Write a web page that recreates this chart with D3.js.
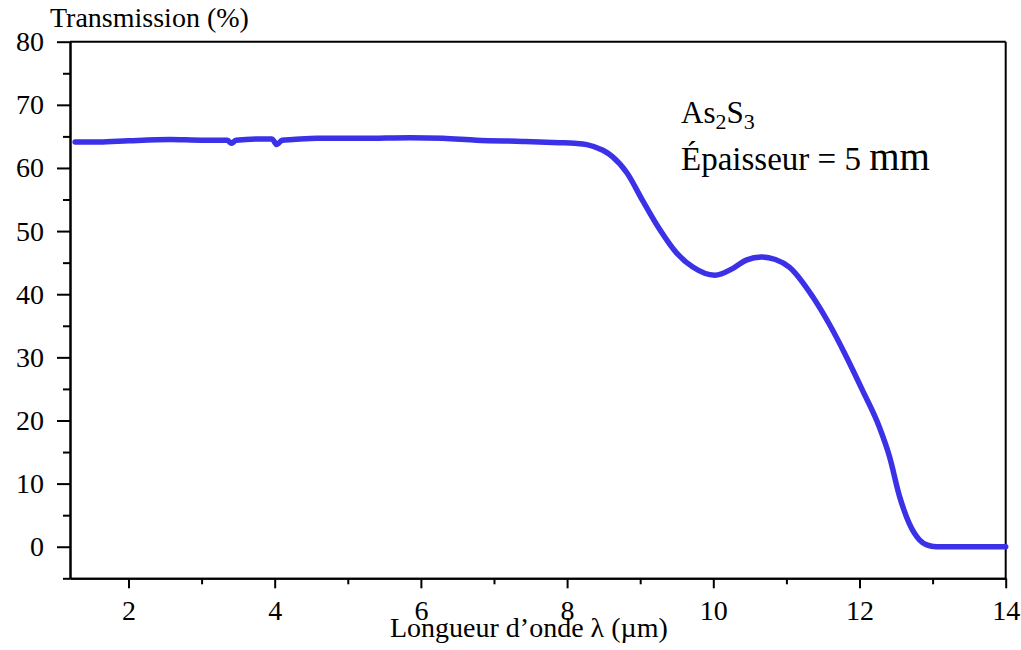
<!DOCTYPE html>
<html>
<head>
<meta charset="utf-8">
<script src="https://cdn.jsdelivr.net/npm/d3@7"></script>
<style>
  body { margin: 0; background: #fff; }
  svg text { font-family: "Liberation Serif", "Times New Roman", Times, serif; fill: #000; }
  .axis path, .axis line { stroke: #000; stroke-width: 2px; }
  .axis text { font-size: 28px; }
</style>
</head>
<body>
<div id="chart-area"></div>
<script>
// longueur d'onde (µm) et transmission (%)
var wavelength = [1.27, 1.6, 2.0, 2.57, 3.0, 3.35, 3.41, 3.47, 3.80, 3.96, 4.03, 4.10, 4.25, 4.58, 5.2, 5.85, 6.3, 6.76, 7.39, 7.9, 8.1, 8.27, 8.49, 8.62, 8.82, 9.03, 9.27, 9.5, 9.72, 10.02, 10.27, 10.45, 10.66, 10.85, 11.04, 11.36, 11.59, 11.82, 12.04, 12.27, 12.41, 12.55, 12.68, 12.82, 12.92, 13.05, 13.5, 14.0];
var transmission = [64.1, 64.1, 64.3, 64.5, 64.4, 64.4, 63.9, 64.4, 64.6, 64.6, 63.7, 64.4, 64.5, 64.7, 64.7, 64.8, 64.7, 64.4, 64.2, 64.0, 63.9, 63.7, 62.8, 61.8, 59.2, 54.9, 50.2, 46.5, 44.3, 43.0, 44.1, 45.4, 45.9, 45.5, 44.3, 39.6, 35.2, 30.1, 24.8, 19.0, 14.3, 7.9, 3.7, 1.1, 0.3, 0, 0, 0];

var xMajor = [2, 4, 6, 8, 10, 12, 14];
var xMinor = [3, 5, 7, 9, 11, 13];
var yMajor = [0, 10, 20, 30, 40, 50, 60, 70, 80];
var yMinor = [-5, 5, 15, 25, 35, 45, 55, 65, 75];

var serif = "Liberation Serif, Times New Roman, Times, serif";

var margin = { top: 41.7, right: 15.3, bottom: 71.7, left: 70 };
var width = 1021 - margin.left - margin.right,
	height = 650 - margin.top - margin.bottom;

var svg = d3.select("#chart-area")
	.append("svg")
		.attr("width", 1021)
		.attr("height", 650)
		.attr("font-family", serif);

var g = svg.append("g")
	.attr("transform", "translate(" + margin.left + ", " + margin.top + ")");

var x = d3.scaleLinear().domain([1.2, 14]).range([0, width]);
var y = d3.scaleLinear().domain([-5, 80]).range([height, 0]);

// cadre haut et droit
g.append("line")
	.attr("x1", 0).attr("x2", width)
	.attr("y1", 0).attr("y2", 0)
	.attr("stroke", "#000").attr("stroke-width", 2);
g.append("line")
	.attr("x1", width).attr("x2", width)
	.attr("y1", 0).attr("y2", height)
	.attr("stroke", "#000").attr("stroke-width", 2);

// axes
g.append("g")
	.attr("class", "axis")
	.attr("transform", "translate(0, " + height + ")")
	.call(d3.axisBottom(x).tickValues(xMinor).tickSize(6).tickSizeOuter(0).tickFormat(""));
g.append("g")
	.attr("class", "axis")
	.attr("transform", "translate(0, " + height + ")")
	.call(d3.axisBottom(x).tickValues(xMajor).tickSize(10).tickSizeOuter(0).tickPadding(12))
	.attr("font-family", serif)
	.selectAll("text").attr("dy", "0.71em");

g.append("g")
	.attr("class", "axis")
	.call(d3.axisLeft(y).tickValues(yMinor).tickSize(7).tickSizeOuter(0).tickFormat(""));
g.append("g")
	.attr("class", "axis")
	.call(d3.axisLeft(y).tickValues(yMajor).tickSize(13).tickSizeOuter(0).tickPadding(13))
	.attr("font-family", serif);

// courbe
var data = wavelength.map(function(d, i) { return { w: d, t: transmission[i] }; });

var line = d3.line()
	.x(function(d) { return x(d.w); })
	.y(function(d) { return y(d.t); })
	.curve(d3.curveMonotoneX);

g.append("path")
	.attr("fill", "none")
	.attr("stroke", "#3b31e6")
	.attr("stroke-width", 5.5)
	.attr("stroke-linejoin", "round")
	.attr("stroke-linecap", "round")
	.attr("d", line(data));

// titres des axes
svg.append("text")
	.attr("x", 50)
	.attr("y", 27)
	.attr("font-size", "28px")
	.text("Transmission (%)");

svg.append("text")
	.attr("x", 390)
	.attr("y", 637)
	.attr("font-size", "28px")
	.text("Longueur d\u2019onde \u03bb (\u00b5m)");

// annotation
var ann = svg.append("text")
	.attr("x", 681)
	.attr("y", 123)
	.attr("font-size", "31px");
ann.append("tspan").text("As");
ann.append("tspan").attr("font-size", "22px").attr("dy", 6).text("2");
ann.append("tspan").attr("dy", -6).text("S");
ann.append("tspan").attr("font-size", "22px").attr("dy", 6).text("3");

var ann2 = svg.append("text")
	.attr("x", 681)
	.attr("y", 170)
	.attr("font-size", "33px");
ann2.append("tspan").text("\u00c9paisseur = 5 ");
ann2.append("tspan").attr("font-size", "39px").text("mm");
</script>
</body>
</html>
